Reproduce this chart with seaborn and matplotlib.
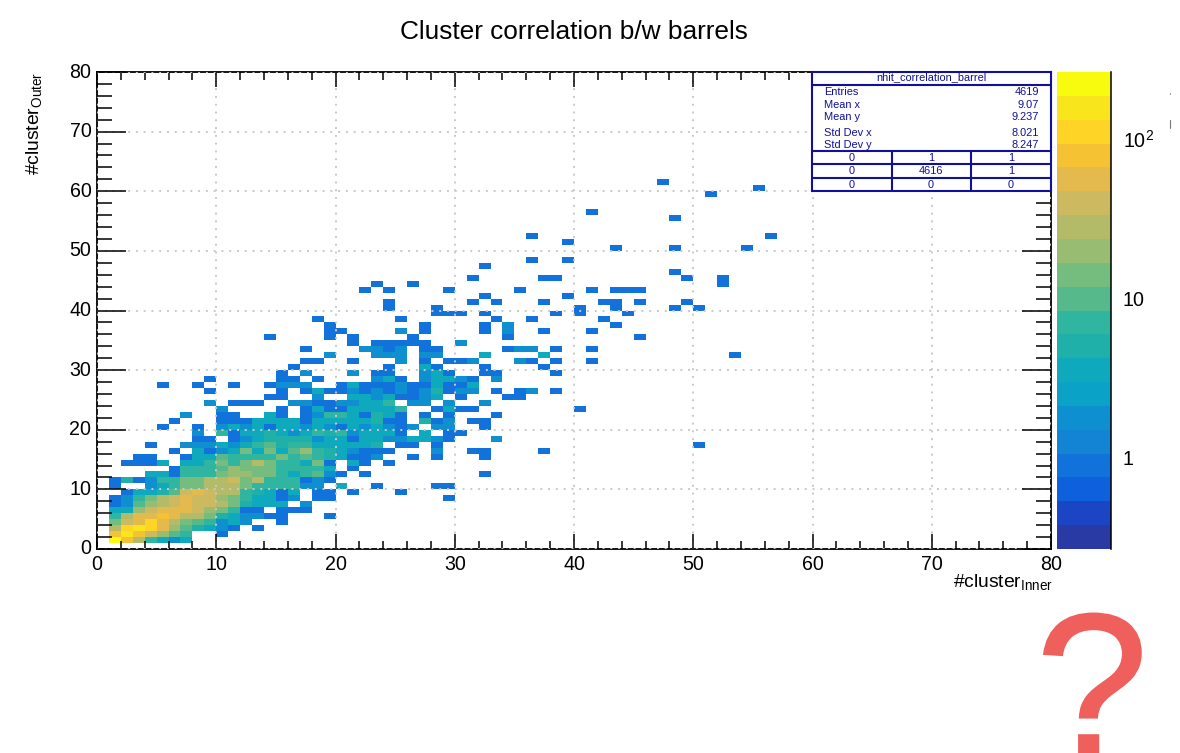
import numpy as np
import pandas as pd
import matplotlib
matplotlib.use('Agg')
import matplotlib.pyplot as plt
import matplotlib.patheffects as pe
import seaborn as sns
from matplotlib.colors import ListedColormap, LogNorm
from matplotlib.lines import Line2D
from matplotlib.ticker import NullFormatter

# counts per bin, one dict per y bin: {x bin: entries}
y01 = {1:220,2:70,3:25,4:7,5:4,6:2,7:3}
y02 = {1:70,2:150,3:70,4:40,5:18,6:9,7:7,10:1}
y03 = {1:26,2:110,3:150,4:100,5:50,6:18,7:9,8:5,9:3,10:2,11:1,13:1}
y04 = {1:12,2:35,3:50,4:100,5:55,6:28,7:14,8:9,9:8,10:2,11:3,12:2,15:1}
y05 = {1:7,2:26,3:50,4:50,5:75,6:55,7:28,8:26,9:12,10:5,11:3,12:2,13:2,14:1,15:1,19:1}
y06 = {1:4,2:3,3:18,4:36,5:50,6:55,7:55,8:38,9:18,10:12,11:8,12:1,13:1,15:1,16:1,17:1}
y07 = {1:1,2:2,3:9,4:18,5:28,6:36,7:55,8:38,9:36,10:26,11:12,12:5,13:3,14:3,15:3,17:2}
y08 = {1:1,2:2,3:8,4:13,5:26,6:36,7:60,8:38,9:36,10:20,11:15,12:7,13:4,14:4,15:1,16:2,18:1,19:1,29:1}
y09 = {2:1,3:3,4:3,5:5,6:10,7:40,8:60,9:40,10:25,11:25,12:6,13:5,14:4,15:1,16:3,18:1,19:1,21:1,25:1}
y10 = {1:1,4:2,5:3,6:6,7:12,8:12,9:25,10:30,11:30,12:15,13:7,14:7,15:6,16:6,17:2,18:2,20:3,23:1,28:1,29:1}
y11 = {1:1,2:5,3:1,4:2,5:6,6:8,7:15,8:15,9:30,10:25,11:40,12:15,13:25,14:6,15:6,16:6,17:1,18:2,19:1}
y12 = {4:3,5:4,6:1,7:7,8:7,9:8,10:12,11:20,12:20,13:12,14:12,15:6,16:3,17:6,18:10,19:2,20:1,22:1,32:1}
y13 = {6:1,7:6,8:6,9:7,10:10,11:22,12:12,13:12,14:12,15:6,16:6,17:6,18:6,19:4,21:1}
y14 = {2:1,3:1,4:1,5:3,7:3,8:4,9:6,10:12,11:7,12:12,13:25,14:15,15:6,16:6,17:3,18:12,19:1,21:3,22:1,24:1}
y15 = {3:1,4:1,7:1,8:3,9:3,10:9,11:6,12:6,13:6,14:6,15:12,16:6,17:10,18:6,19:5,20:3,21:1,22:1,23:2,26:1,28:1,32:1}
y16 = {6:1,8:3,9:1,10:2,11:4,12:12,13:4,14:15,15:4,16:10,17:20,18:6,19:5,20:4,21:2,22:1,23:1,24:1,28:2,31:1,32:1,37:1}
y17 = {4:1,7:2,8:2,9:2,10:3,11:2,12:3,13:6,14:10,15:5,16:6,17:6,18:3,19:3,20:3,21:3,22:3,23:5,25:1,26:1,28:1,50:1}
y18 = {8:1,9:1,11:1,12:2,13:4,14:5,15:5,16:5,17:5,18:2,19:4,20:4,21:1,22:3,23:3,24:2,25:2,26:3,27:3,28:2,29:1,33:2}
y19 = {8:2,10:7,11:1,12:3,13:4,14:5,15:4,16:2,17:3,18:8,19:5,20:6,21:2,22:3,23:3,24:3,25:1,27:3,29:1,30:1}
y20 = {5:1,8:1,10:2,11:3,12:2,13:4,14:1,15:4,16:3,17:2,18:3,19:2,20:1,21:3,22:2,23:4,24:2,25:1,26:2,28:2,29:2,32:1}
y21 = {6:1,10:1,11:1,12:1,13:3,14:3,15:3,16:3,17:1,18:4,19:3,20:4,21:4,22:3,23:5,24:1,25:1,27:5,28:1,29:2,31:1,32:1}
y22 = {7:2,10:1,11:1,14:3,15:1,17:1,18:2,19:6,20:6,21:4,22:1,23:5,24:3,25:1,27:1,29:1,33:1}
y23 = {10:2,15:1,17:1,18:3,19:1,20:1,21:3,22:4,23:4,24:4,25:7,28:1,29:3,30:1,31:1,40:1}
y24 = {9:2,11:1,12:1,13:1,16:2,17:2,18:1,19:1,20:2,21:2,22:3,23:3,24:7,26:2,27:2,29:2,32:2}
y25 = {14:1,15:1,18:2,21:4,22:3,23:2,24:3,25:1,26:1,27:2,28:3,30:1,34:1,35:1}
y26 = {9:1,15:1,17:1,18:3,19:1,20:1,21:2,22:1,23:2,24:1,25:2,26:1,27:2,28:5,29:1,30:2,31:2,33:1,35:1,36:2,38:1}
y27 = {5:1,8:1,11:1,14:1,15:2,16:2,17:2,20:1,21:3,22:1,23:1,24:1,25:2,26:1,27:1,28:3,29:1,30:1,31:3}
y28 = {9:1,15:1,16:1,18:1,23:2,24:3,25:1,27:2,28:3,29:4,30:2,31:1,33:2}
y29 = {15:1,17:2,21:2,23:1,24:1,27:2,28:3,29:1,32:1,33:1,38:1}
y30 = {16:1,24:1,27:3,28:1,32:1,37:1}
y31 = {17:1,18:1,21:1,25:2,27:1,29:1,30:1,31:2,35:2,36:1,38:1,41:1}
y32 = {19:2,23:2,24:2,25:2,27:2,28:2,32:3,37:3,53:1}
y33 = {17:1,22:2,23:2,24:1,25:2,27:1,28:1,34:1,35:2,36:2,38:1,41:1}
y34 = {21:1,23:1,24:1,25:1,26:1,27:1,30:2}
y35 = {14:1,19:1,21:1,26:1,34:1,45:1}
y36 = {19:1,20:1,25:2,27:1,32:1,34:2,37:1,41:1}
y37 = {19:1,27:1,32:1,34:2,43:1}
y38 = {18:1,25:1,33:1,36:1,42:1}
y39 = {28:1,29:1,30:1,32:1,38:1,40:1,44:1}
y40 = {24:1,28:1,40:1,43:1,48:1,50:1}
y41 = {24:1,31:1,33:1,37:1,42:1,43:1,45:1,49:1}
y42 = {32:1,39:1}
y43 = {22:1,24:1,29:1,35:1,41:1,43:1,44:1,45:1}
y44 = {23:1,26:1,52:1}
y45 = {31:1,37:1,38:1,49:1,52:1}
y46 = {48:1}
y47 = {32:1}
y48 = {36:1,39:1}
y50 = {43:1,48:1,54:1}
y51 = {39:1}
y52 = {36:1,56:1}
y55 = {48:1}
y56 = {41:1}
y59 = {51:1}
y60 = {55:1}
y61 = {47:1}

rows = {1:y01,2:y02,3:y03,4:y04,5:y05,6:y06,7:y07,8:y08,9:y09,10:y10,11:y11,12:y12,
        13:y13,14:y14,15:y15,16:y16,17:y17,18:y18,19:y19,20:y20,21:y21,22:y22,23:y23,
        24:y24,25:y25,26:y26,27:y27,28:y28,29:y29,30:y30,31:y31,32:y32,33:y33,34:y34,
        35:y35,36:y36,37:y37,38:y38,39:y39,40:y40,41:y41,42:y42,43:y43,44:y44,45:y45,
        46:y46,47:y47,48:y48,50:y50,51:y51,52:y52,55:y55,56:y56,59:y59,60:y60,61:y61}

# ROOT kBird in 20 contours
bird = ['#2a3aa5','#1a45c5','#0f60dd','#1272dc','#1383d4','#0e90d0','#0aa2c6','#0ea9bd','#1fb0aa','#30b5a0',
        '#55b98c','#75bd7f','#97bc72','#b4bb68','#cdb95f','#e5ba4c','#f5c234','#fed527','#f9e51b','#f9fb0e']

stat_names = ['Entries','Mean x','Mean y','Std Dev x','Std Dev y']
stat_values = ['4619','9.07','9.237','8.021','8.247']
overflow = [['0','1','1'],['0','4616','1'],['0','0','0']]

W, H = 1180, 753
def rect(x0, y0, x1, y1):
    return [x0/W, 1-y1/H, (x1-x0)/W, (y1-y0)/H]

sns.set_theme(style='white')
plt.rcParams['font.family'] = ['Liberation Sans', 'DejaVu Sans']
plt.rcParams['mathtext.default'] = 'regular'

counts = np.zeros((80, 80))
for j, row in rows.items():
    for i, c in row.items():
        counts[j, i] = c
df = pd.DataFrame(counts)

fig = plt.figure(figsize=(W/100, H/100), dpi=100)
ax = fig.add_axes(rect(97, 72, 1051, 549))
cax = fig.add_axes(rect(1057, 72, 1111, 549))

sns.heatmap(df, ax=ax, cbar_ax=cax, mask=df == 0, cmap=ListedColormap(bird),
            norm=LogNorm(vmin=0.264, vmax=264))

ax.set_xlim(0, 80)
ax.set_ylim(0, 80)
ax.set_xticks(np.arange(0, 81, 10))
ax.set_yticks(np.arange(0, 81, 10))
ax.set_xticks(np.arange(0, 81, 2), minor=True)
ax.set_yticks(np.arange(0, 81, 2), minor=True)
ax.set_xticklabels([str(v) for v in range(0, 81, 10)], rotation=0)
ax.set_yticklabels([str(v) for v in range(0, 81, 10)], rotation=0)
for s in ax.spines.values():
    s.set_visible(True)
    s.set_color('black')
    s.set_linewidth(1.3)
ax.spines['top'].set_linestyle((0, (3, 1)))
ax.spines['bottom'].set_linestyle((0, (3, 1)))
ax.tick_params(axis='x', which='major', direction='in', length=11, width=1.1, top=True, bottom=True,
               labelsize=14.1, pad=4, color='black', labelcolor='black')
ax.tick_params(axis='y', which='major', direction='in', length=21, width=1.1, left=True, right=True,
               labelsize=14.1, pad=4, color='black', labelcolor='black')
ax.tick_params(axis='x', which='minor', direction='in', length=6, width=1.1, top=True, bottom=True, color='black')
ax.tick_params(axis='y', which='minor', direction='in', length=10.5, width=1.1, left=True, right=True, color='black')
ax.grid(True, which='major', color='#c9c9c9', linestyle=(0, (1, 3)), linewidth=1.4)
ax.set_axisbelow(False)

ax.set_xlabel('#cluster$_{Inner}$', fontsize=13.9, loc='right', color='black', labelpad=0)
ax.xaxis.set_label_coords(1.002, -0.049, transform=ax.transAxes)
ax.set_ylabel('#cluster$_{Outer}$', fontsize=13.9, loc='top', color='black')
ax.yaxis.set_label_coords(-0.056, 1, transform=ax.transAxes)

fig.text(574/W, 1-32/H, 'Cluster correlation b/w barrels', ha='center', va='center', fontsize=18.9, color='black')

# colour scale
cb = ax.collections[0].colorbar
cb.outline.set_visible(False)
cax.spines['right'].set_visible(True)
cax.spines['right'].set_color('black')
cax.spines['right'].set_linewidth(1.1)
cax.yaxis.set_ticks_position('right')
cax.set_yticks([1, 10, 100])
cax.set_yticklabels(['1', '10', '10$^{2}$'])
minor_ticks = [m*d for d in (0.1, 1, 10, 100) for m in range(2, 10) if 0.264 < m*d < 264]
cax.set_yticks(minor_ticks, minor=True)
cax.yaxis.set_minor_formatter(NullFormatter())
cax.tick_params(which='major', direction='in', length=20, width=1.1, right=True, left=False,
                labelsize=14.1, pad=8.5, color='black', labelcolor='black')
cax.tick_params(which='minor', direction='in', length=10, width=1.1, right=True, left=False, color='black')

# stats box
navy = '#10109a'
box = fig.add_axes(rect(812, 72, 1051, 191))
box.set_xlim(812, 1051)
box.set_ylim(191, 72)
box.set_xticks([])
box.set_yticks([])
box.set_facecolor('white')
box.set_zorder(5)
for s in box.spines.values():
    s.set_color(navy)
    s.set_linewidth(1.5)
box.hlines([84.5, 151, 164, 178], 812, 1051, color=navy, linewidth=1.5)
box.vlines([892, 971], 151, 191, color=navy, linewidth=1.5)
box.text(931, 77.5, 'nhit_correlation_barrel', ha='center', va='center', fontsize=7.9, color=navy)
stat_y = [92, 105, 117, 132.5, 144.5]
for name, val, yy in zip(stat_names, stat_values, stat_y):
    box.text(824, yy, name, ha='left', va='center', fontsize=7.9, color=navy)
    box.text(1039, yy, val, ha='right', va='center', fontsize=7.9, color=navy)
for row, yy in zip(overflow, [158, 171, 185]):
    for val, xx in zip(row, [852, 931, 1011]):
        box.text(xx, yy, val, ha='center', va='center', fontsize=7.9, color=navy)

# leftovers at the right edge and the big question mark
fig.add_artist(Line2D([1170/W, 1170/W], [1-120/H, 1-128/H], color='#777777', linewidth=0.8))
fig.add_artist(Line2D([1170/W, 1170/W], [1-92.5/H, 1-94/H], color='#999999', linewidth=0.8))
qm = fig.text(1092/W, 1-755/H, '?', ha='center', va='baseline', fontsize=146, color='#ef5f5b')
qm.set_path_effects([pe.withStroke(linewidth=1.3, foreground='#ef5f5b', joinstyle='miter')])

fig.savefig('out.png', dpi=100)
